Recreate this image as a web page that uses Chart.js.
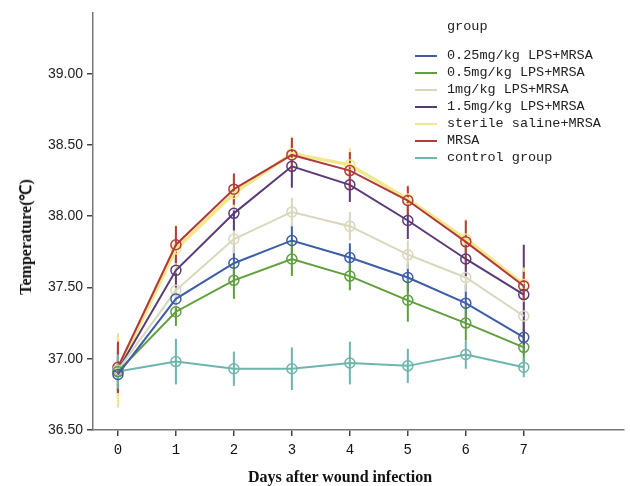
<!DOCTYPE html>
<html>
<head>
<meta charset="utf-8">
<script src="https://cdn.jsdelivr.net/npm/chart.js@4/dist/chart.umd.min.js"></script>
<style>
  html, body { margin: 0; padding: 0; background: #fff; }
  #wrap { position: relative; width: 630px; height: 486px; }
  #c { position: absolute; left: 0; top: 0; }
  .ytitle {
    position: absolute; left: 25px; top: 237px;
    transform: translate(-50%, -50%) rotate(-90deg);
    font: bold 16px "Liberation Serif", serif; color: #111; white-space: nowrap;
  }
  .xtitle {
    position: absolute; left: 340px; top: 477px;
    transform: translate(-50%, -50%);
    font: bold 16px "Liberation Serif", serif; color: #111; white-space: nowrap;
  }
  .legend {
    position: absolute; left: 415px; top: 17px;
    font: 13.5px "Liberation Mono", monospace; color: #222;
  }
  .legend .head { padding-left: 32px; height: 20px; line-height: 20px; margin-bottom: 10px; }
  .legend .row { height: 17px; line-height: 17px; display: flex; align-items: center; }
  .legend .sw { width: 22px; height: 2px; margin-right: 10px; }
</style>
</head>
<body>
<div id="wrap">
  <canvas id="c" width="630" height="486"></canvas>
  <div class="ytitle">Temperature(℃)</div>
  <div class="xtitle">Days after wound infection</div>
  <div class="legend" id="legend"><div class="head">group</div></div>
</div>
<script>
// Days after wound infection
const days = [0, 1, 2, 3, 4, 5, 6, 7];
const yTicks = [36.5, 37.0, 37.5, 38.0, 38.5, 39.0];

// Mean body temperature (°C) per group
const lps025 = [36.89, 37.42, 37.67, 37.83, 37.71, 37.57, 37.39, 37.15];
const lps05  = [36.91, 37.33, 37.55, 37.70, 37.58, 37.41, 37.25, 37.08];
const lps1   = [36.92, 37.48, 37.84, 38.03, 37.93, 37.73, 37.57, 37.30];
const lps15  = [36.92, 37.62, 38.02, 38.35, 38.22, 37.97, 37.70, 37.45];
const saline = [36.92, 37.77, 38.16, 38.44, 38.36, 38.12, 37.84, 37.52];
const mrsa   = [36.94, 37.80, 38.19, 38.43, 38.32, 38.11, 37.82, 37.51];
const control= [36.91, 36.98, 36.93, 36.93, 36.97, 36.95, 37.03, 36.94];

// Error-bar half widths (°C)
const lps025Err = [0.17, 0.10, 0.12, 0.10, 0.10, 0.10, 0.13, 0.12];
const lps05Err  = [0.14, 0.10, 0.13, 0.12, 0.10, 0.15, 0.12, 0.10];
const lps1Err   = [0.26, 0.12, 0.10, 0.10, 0.10, 0.10, 0.10, 0.10];
const lps15Err  = [0.18, 0.12, 0.12, 0.15, 0.12, 0.13, 0.12, 0.35];
const salineErr = [0.25, 0.17, 0.12, 0.12, 0.12, 0.10, 0.14, 0.12];
const mrsaErr   = [0.18, 0.13, 0.11, 0.12, 0.13, 0.10, 0.15, 0.10];
const controlErr= [0.12, 0.16, 0.12, 0.15, 0.15, 0.12, 0.10, 0.07];

const groups = ['0.25mg/kg LPS+MRSA', '0.5mg/kg LPS+MRSA', '1mg/kg LPS+MRSA',
  '1.5mg/kg LPS+MRSA', 'sterile saline+MRSA', 'MRSA', 'control group'];
const colors = ['#3d5ea6', '#5f9f3c', '#d9d7bb', '#5a3b78', '#f1e88a', '#b23a3c', '#6db5ad'];
const values = [lps025, lps05, lps1, lps15, saline, mrsa, control];
const errors = [lps025Err, lps05Err, lps1Err, lps15Err, salineErr, mrsaErr, controlErr];

// legend rows
const legend = document.getElementById('legend');
groups.forEach((g, i) => {
  const row = document.createElement('div');
  row.className = 'row';
  const sw = document.createElement('span');
  sw.className = 'sw';
  sw.style.background = colors[i];
  const t = document.createElement('span');
  t.textContent = g;
  row.appendChild(sw); row.appendChild(t);
  legend.appendChild(row);
});

const datasets = groups.map((g, i) => ({
  label: g,
  data: days.map((d, j) => ({ x: d, y: values[i][j] })),
  errors: errors[i],
  borderColor: colors[i],
  backgroundColor: 'rgba(0,0,0,0)',
  pointBorderColor: colors[i],
  pointBackgroundColor: 'rgba(0,0,0,0)',
  borderWidth: i === 4 ? 3.5 : 2,
  pointRadius: 5,
  pointBorderWidth: 1.5,
  tension: 0,
  order: i === 4 ? 1 : 0   // saline line sits beneath the MRSA line
}));

// vertical error bars drawn through each mean
const errorBars = {
  id: 'errorBars',
  beforeDatasetsDraw(chart) {
    const ctx = chart.ctx;
    const y = chart.scales.y;
    chart.data.datasets.forEach((ds, i) => {
      const meta = chart.getDatasetMeta(i);
      ctx.save();
      ctx.strokeStyle = ds.borderColor;
      ctx.lineWidth = 2;
      meta.data.forEach((pt, j) => {
        const v = ds.data[j].y, e = ds.errors[j];
        ctx.beginPath();
        ctx.moveTo(pt.x, y.getPixelForValue(v + e));
        ctx.lineTo(pt.x, y.getPixelForValue(v - e));
        ctx.stroke();
      });
      ctx.restore();
    });
  }
};

new Chart(document.getElementById('c'), {
  type: 'line',
  data: { datasets },
  options: {
    responsive: false,
    animation: false,
    events: [],
    layout: { padding: { top: 12, right: 5, left: 0, bottom: 0 } },
    plugins: { legend: { display: false }, tooltip: { enabled: false } },
    scales: {
      x: {
        type: 'linear',
        min: -0.43, max: 8.72,
        afterBuildTicks: s => { s.ticks = days.map(v => ({ value: v })); },
        afterFit: s => { s.height = 56; },
        grid: { drawOnChartArea: false, drawTicks: true, tickLength: 6, color: '#444', lineWidth: 1.5 },
        border: { display: true, color: '#777', width: 1.5 },
        ticks: { font: { family: 'Liberation Mono', size: 14 }, color: '#111', padding: 6, maxRotation: 0 }
      },
      y: {
        min: 36.5, max: 39.43,
        afterBuildTicks: s => { s.ticks = yTicks.map(v => ({ value: v })); },
        afterFit: s => { s.width = 93; },
        grid: { drawOnChartArea: false, drawTicks: true, tickLength: 6, color: '#444', lineWidth: 1.5 },
        border: { display: true, color: '#777', width: 1.5 },
        ticks: {
          font: { family: 'Liberation Sans', size: 14 }, color: '#222', padding: 4,
          callback: v => Number(v).toFixed(2)
        }
      }
    }
  },
  plugins: [errorBars]
});
</script>
</body>
</html>
